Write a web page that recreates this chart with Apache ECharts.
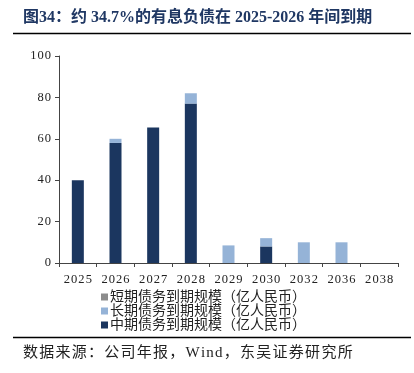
<!DOCTYPE html>
<html><head><meta charset="utf-8">
<script src="https://cdn.jsdelivr.net/npm/echarts@6/dist/echarts.min.js"></script>
<style>html,body{margin:0;padding:0;background:#fff}#c{width:414px;height:373px}</style>
</head><body><div id="c"></div>
<script>
const categories = ['2025','2026','2027','2028','2029','2030','2032','2036','2038'];
const shortTerm = [0,0,0,0,0,0,0,0,0];
const longTerm = [0,2,0,5,8.5,4,10,10,0];
const midTerm = [40,58,65.5,77,0,8,0,0,0];
const yTicks = [0,20,40,60,80,100];

const serif = '"Liberation Serif","Times New Roman","Noto Sans CJK SC",serif';
const cjk = '"Liberation Serif","Noto Sans CJK SC",serif';
const spaced = s => String(s).split('').join('\u200A');
const chart = echarts.init(document.getElementById('c'));
chart.setOption({
  animation:false,
  graphic:[
    {type:'text',left:23,top:10,style:{text:'图34：约 34.7%的有息负债在 2025-2026 年间到期',font:'bold 16px '+cjk,fill:'#1f3763'}},
    {type:'line',shape:{x1:13,y1:33.5,x2:411,y2:33.5},style:{stroke:'#000',lineWidth:1.6}},
    {type:'line',shape:{x1:13,y1:337.5,x2:411,y2:337.5},style:{stroke:'#000',lineWidth:1.6}},
    {type:'text',left:23,top:346,style:{text:'数据来源：公司年报，Wind，东吴证券研究所'.split('').join('\u200A'),font:'15px '+cjk,fill:'#222'}}
  ],
  grid:{left:59,right:16,top:56,bottom:110},
  legend:{
    orient:'vertical',left:96,top:285,itemWidth:7,itemHeight:7,itemGap:0,
    icon:'rect',
    textStyle:{fontFamily:cjk,fontSize:14,lineHeight:14,color:'#222',padding:[0,0,0,-3]},
    data:['短期债务到期规模（亿人民币）','长期债务到期规模（亿人民币）','中期债务到期规模（亿人民币）']
  },
  xAxis:{
    type:'category',data:categories,
    axisLine:{lineStyle:{color:'#444'}},
    axisTick:{show:true,alignWithLabel:false,length:4,lineStyle:{color:'#444'}},
    axisLabel:{fontFamily:serif,fontSize:12.5,color:'#222',margin:10,formatter:v=>spaced(v)}
  },
  yAxis:{
    type:'value',min:0,max:100,interval:20,
    axisLine:{show:true,lineStyle:{color:'#444'}},
    axisTick:{show:true,length:4,lineStyle:{color:'#444'}},
    splitLine:{show:false},
    axisLabel:{fontFamily:serif,fontSize:12.5,color:'#222',margin:8,
      formatter:v=>yTicks.includes(v)?spaced(v):''}
  },
  series:[
    {name:'中期债务到期规模（亿人民币）',type:'bar',stack:'a',barWidth:12,data:midTerm,itemStyle:{color:'#1b365f'}},
    {name:'长期债务到期规模（亿人民币）',type:'bar',stack:'a',barWidth:12,data:longTerm,itemStyle:{color:'#95b3d7'}},
    {name:'短期债务到期规模（亿人民币）',type:'bar',stack:'a',barWidth:12,data:shortTerm,itemStyle:{color:'#8c8c8c'}}
  ]
});
</script></body></html>
